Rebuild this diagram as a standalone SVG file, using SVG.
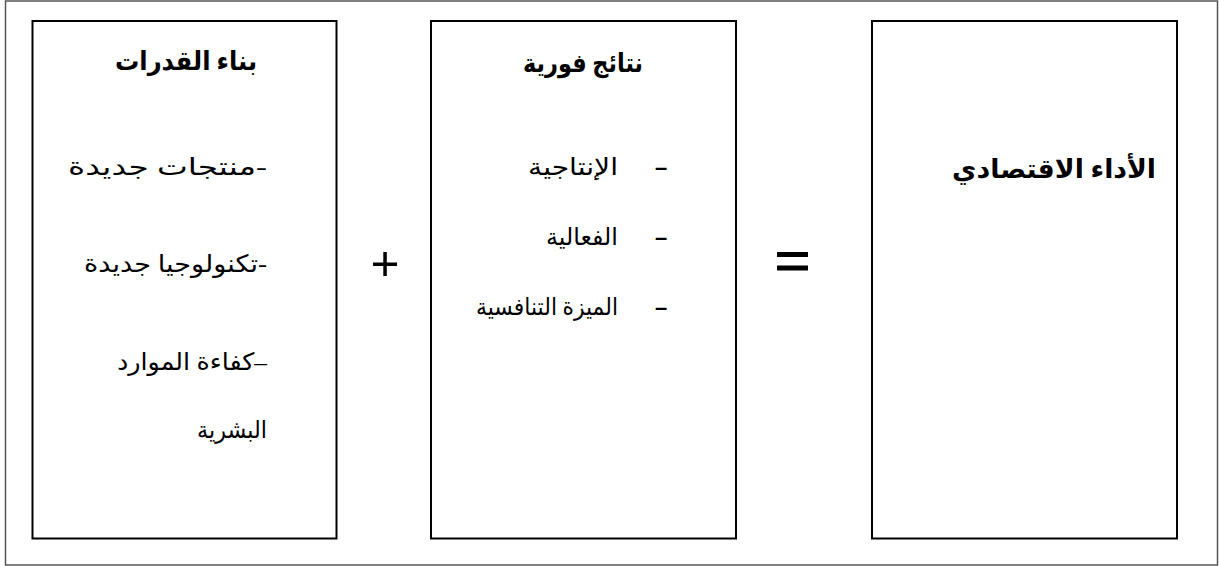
<svg xmlns="http://www.w3.org/2000/svg" width="1219" height="566" viewBox="0 0 1219 566">
<style>
.frame{fill:#fff;stroke:#555;stroke-width:1.5}
.box{fill:#fff;stroke:#000;stroke-width:2}
.t{font-family:"Liberation Serif","DejaVu Sans",serif;fill:#000;direction:rtl}
.title{font-size:26px;font-weight:bold}
.item{font-size:24px}
.dash{font-family:"Liberation Sans",sans-serif;font-size:22px;font-weight:bold;fill:#000}
.op{fill:#000}
</style>
<rect class="frame" x="5.5" y="1" width="1212" height="564"/>
<g id="node-capacity">
<rect class="box" x="32.5" y="21" width="304" height="517.5"/>
<text class="t title" x="257" y="70" direction="rtl" text-anchor="start" textLength="142" lengthAdjust="spacingAndGlyphs">بناء القدرات</text>
<text class="t item" x="267" y="175" direction="rtl" text-anchor="start" textLength="199" lengthAdjust="spacingAndGlyphs">-منتجات جديدة</text>
<text class="t item" x="267" y="272" direction="rtl" text-anchor="start" textLength="183" lengthAdjust="spacingAndGlyphs">-تكنولوجيا جديدة</text>
<text class="t item" x="267" y="370" direction="rtl" text-anchor="start" textLength="150" lengthAdjust="spacingAndGlyphs">–كفاءة الموارد</text>
<text class="t item" x="267" y="438" direction="rtl" text-anchor="start" textLength="70" lengthAdjust="spacingAndGlyphs">البشرية</text>
</g>
<g id="node-results">
<rect class="box" x="431" y="21" width="305" height="517.5"/>
<text class="t title" x="643" y="72" direction="rtl" text-anchor="start" textLength="120" lengthAdjust="spacingAndGlyphs">نتائج فورية</text>
<text class="dash" x="655" y="175">–</text>
<text class="t item" x="618" y="175" direction="rtl" text-anchor="start" textLength="90" lengthAdjust="spacingAndGlyphs">الإنتاجية</text>
<text class="dash" x="655" y="245">–</text>
<text class="t item" x="618" y="245" direction="rtl" text-anchor="start" textLength="72" lengthAdjust="spacingAndGlyphs">الفعالية</text>
<text class="dash" x="655" y="315">–</text>
<text class="t item" x="618" y="315" direction="rtl" text-anchor="start" textLength="142" lengthAdjust="spacingAndGlyphs">الميزة التنافسية</text>
</g>
<g id="node-performance">
<rect class="box" x="872" y="21" width="305" height="517.5"/>
<text class="t title" x="1156" y="178" direction="rtl" text-anchor="start" textLength="204" lengthAdjust="spacingAndGlyphs">الأداء الاقتصادي</text>
</g>
<g id="connectors">
<g id="plus" class="op">
<rect x="373" y="262.5" width="24" height="3.5"/>
<rect x="383.3" y="252" width="3.5" height="24"/>
</g>
<g id="equals" class="op">
<rect x="777" y="252" width="31" height="5"/>
<rect x="777" y="265.5" width="31" height="5"/>
</g>
</g>
</svg>
